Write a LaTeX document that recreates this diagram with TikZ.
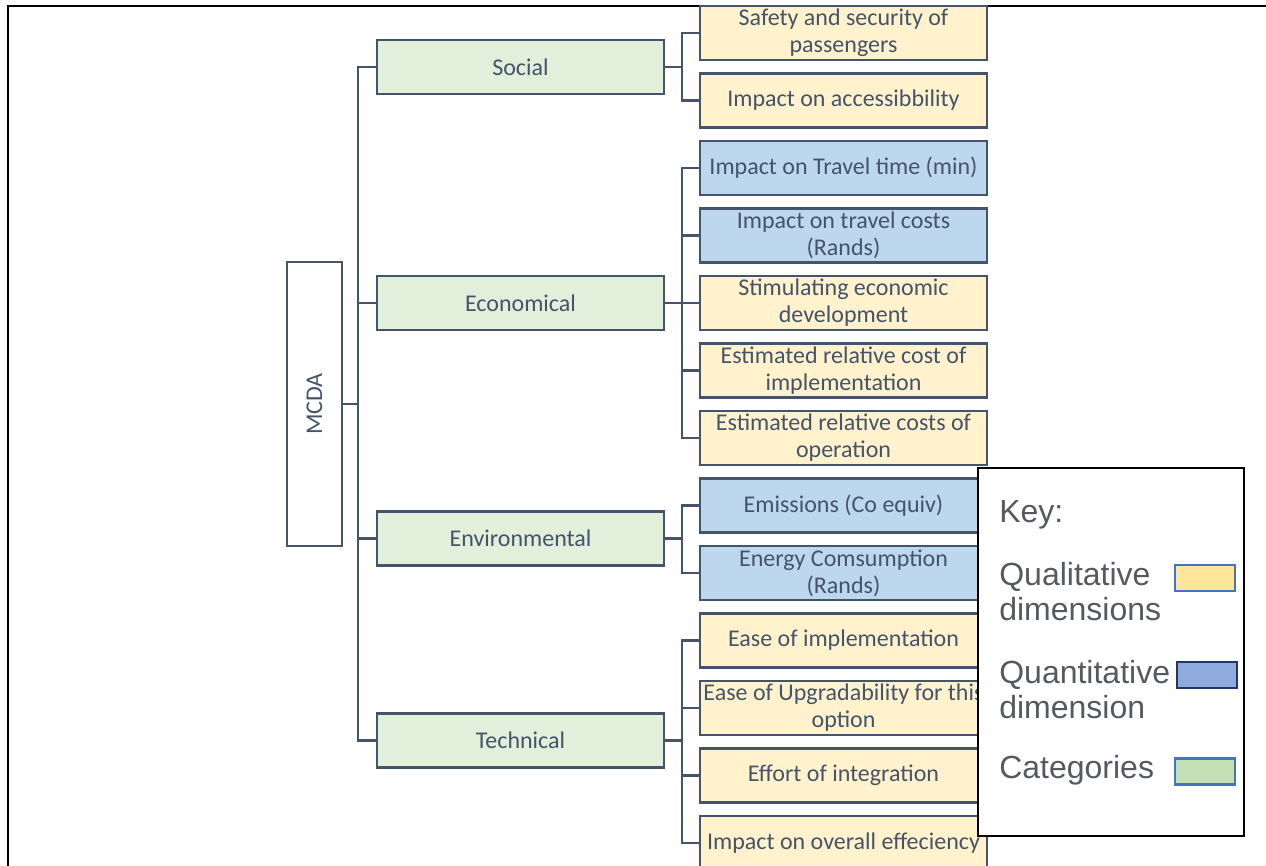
\documentclass[tikz,border=0pt]{standalone}
\usepackage{fontspec}
\setmainfont{Carlito}
\newfontfamily\keyfont{Liberation Sans}
\usetikzlibrary{positioning}
\definecolor{slate}{HTML}{44546A}
\definecolor{qualfill}{HTML}{FFF2CC}
\definecolor{quantfill}{HTML}{BDD7EE}
\definecolor{catfill}{HTML}{E2EFDA}
\definecolor{keytext}{HTML}{555A60}
\definecolor{keyedge}{HTML}{4472C4}
\definecolor{navyedge}{HTML}{1F3864}
\definecolor{qualsolid}{HTML}{FFE699}
\definecolor{quantsolid}{HTML}{8FAADC}
\definecolor{catsolid}{HTML}{C5E0B4}

\begin{document}
\begin{tikzpicture}[x=1pt, y=-1pt, node distance=13.5pt, line width=2.6pt,
  box/.style = {draw=slate, text=slate, outer sep=0pt, minimum width=287pt, minimum height=54pt, inner sep=0pt, align=center, font=\fontsize{24}{27}\selectfont},
  cat/.style = {box, fill=catfill},
  qual/.style = {box, fill=qualfill},
  quant/.style = {box, fill=quantfill},
  link/.style = {draw=slate, line width=2.6pt},
  swatch/.style = {draw=keyedge, line width=2.2pt, minimum width=60pt, minimum height=26pt, inner sep=0pt},
  keylabel/.style = {anchor=west, align=left, text=keytext, inner sep=0pt, font=\keyfont\fontsize{32}{35}\selectfont}]
  \useasboundingbox (0,0) rectangle (1266,866);
  \draw[black, line width=2.5pt] (8,866) -- (8,6) -- (1266,6);

  \node[box, fill=white, minimum width=284pt, minimum height=55pt, rotate=90] (mcda) at (314.5,404) {MCDA};

  \node[cat] (soc) at (520.5,67) {Social};
  \node[cat] (eco) at (520.5,303) {Economical};
  \node[cat] (env) at (520.5,538.5) {Environmental};
  \node[cat] (tec) at (520.5,740.5) {Technical};

  \node[qual] (l1) at (843.5,33) {Safety and security of\\passengers};
  \node[qual] (l2) [below=of l1] {Impact on accessibbility};
  \node[quant] (l3) [below=of l2] {Impact on Travel time (min)};
  \node[quant] (l4) [below=of l3] {Impact on travel costs\\(Rands)};
  \node[qual] (l5) [below=of l4] {Stimulating economic\\development};
  \node[qual] (l6) [below=of l5] {Estimated relative cost of\\implementation};
  \node[qual] (l7) [below=of l6] {Estimated relative costs of\\operation};
  \node[quant] (l8) [below=of l7] {Emissions (Co equiv)};
  \node[quant] (l9) [below=of l8] {Energy Comsumption\\(Rands)};
  \node[qual] (l10) [below=of l9] {Ease of implementation};
  \node[qual] (l11) [below=of l10] {\makebox[0pt]{Ease of Upgradability for this}\\option};
  \node[qual] (l12) [below=of l11] {Effort of integration};
  \node[qual] (l13) [below=of l12] {Impact on overall effeciency};

  \foreach \c in {soc,eco,env,tec}
    \draw[link] (mcda.south) -- ++(16pt,0) |- (\c.west);
  \foreach \l in {l1,l2}
    \draw[link] (soc.east) -- ++(18pt,0) |- (\l.west);
  \foreach \l in {l3,l4,l5,l6,l7}
    \draw[link] (eco.east) -- ++(18pt,0) |- (\l.west);
  \foreach \l in {l8,l9}
    \draw[link] (env.east) -- ++(18pt,0) |- (\l.west);
  \foreach \l in {l10,l11,l12,l13}
    \draw[link] (tec.east) -- ++(18pt,0) |- (\l.west);

  % key
  \node[draw=black, fill=white, line width=1.3pt, minimum width=266pt, minimum height=368pt] (key) at (1111,652) {};
  \node[keylabel] (keyhead) at (998,515) {Key:};
  \node[keylabel] (qualkey) at (998,592) {Qualitative\\dimensions};
  \node[keylabel] (quantkey) at (998,690) {Quantitative\\dimension};
  \node[keylabel] (catkey) at (998,770) {Categories};
  \node[swatch, fill=qualsolid] (qualsw) at (1205,578) {};
  \node[swatch, fill=quantsolid, draw=navyedge] (quantsw) at (1207,675) {};
  \node[swatch, fill=catsolid] (catsw) at (1205,771.5) {};
\end{tikzpicture}
\end{document}
